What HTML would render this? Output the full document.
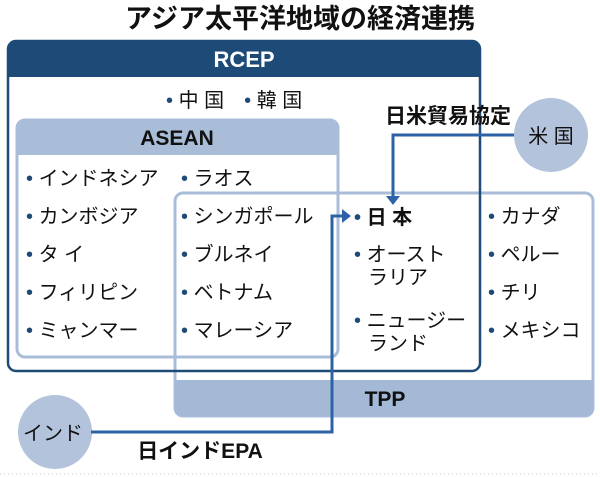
<!DOCTYPE html>
<html><head><meta charset="utf-8"><style>
html,body{margin:0;padding:0;background:#fff;}
svg{display:block;font-family:"Liberation Sans","Noto Sans CJK JP",sans-serif;}
</style></head><body>
<svg width="600" height="477" viewBox="0 0 600 477" xmlns="http://www.w3.org/2000/svg">
<text x="300" y="28" text-anchor="middle" font-size="27" font-weight="bold" fill="#111">アジア太平洋地域の経済連携</text>
<!-- TPP -->
<rect x="175" y="193" width="418" height="223" rx="8" fill="#fff" stroke="#a9bdd8" stroke-width="3"/>
<path d="M175 380 H593 V408 a8 8 0 0 1 -8 8 H183 a8 8 0 0 1 -8 -8 Z" fill="#a3b9d6"/>
<text x="385" y="406" text-anchor="middle" font-size="21" font-weight="bold" fill="#111">TPP</text>
<!-- RCEP -->
<rect x="8" y="41" width="472" height="330" rx="8" fill="none" stroke="#1d4a77" stroke-width="2.5"/>
<path d="M8 49 a8 8 0 0 1 8 -8 H472 a8 8 0 0 1 8 8 V77 H8 Z" fill="#1d4a77"/>
<text x="244" y="67" text-anchor="middle" font-size="22" font-weight="bold" fill="#fff">RCEP</text>
<g font-size="20" fill="#111">
<text x="166" y="107"><tspan fill="#1d4a77">• </tspan>中 国　<tspan fill="#1d4a77">• </tspan>韓 国</text>
</g>
<!-- ASEAN -->
<rect x="17" y="120" width="321" height="237" rx="8" fill="none" stroke="#a9bdd8" stroke-width="3"/>
<path d="M17 128 a8 8 0 0 1 8 -8 H330 a8 8 0 0 1 8 8 V155 H17 Z" fill="#a9bdd8"/>
<text x="177" y="145" text-anchor="middle" font-size="21" font-weight="bold" fill="#111">ASEAN</text>
<g font-size="20" fill="#111">
<text x="26" y="185"><tspan fill="#1d4a77">• </tspan>インドネシア</text>
<text x="26" y="223"><tspan fill="#1d4a77">• </tspan>カンボジア</text>
<text x="26" y="261"><tspan fill="#1d4a77">• </tspan>タ イ</text>
<text x="26" y="299"><tspan fill="#1d4a77">• </tspan>フィリピン</text>
<text x="26" y="337"><tspan fill="#1d4a77">• </tspan>ミャンマー</text>
<text x="181" y="185"><tspan fill="#1d4a77">• </tspan>ラオス</text>
<text x="181" y="223"><tspan fill="#1d4a77">• </tspan>シンガポール</text>
<text x="181" y="261"><tspan fill="#1d4a77">• </tspan>ブルネイ</text>
<text x="181" y="299"><tspan fill="#1d4a77">• </tspan>ベトナム</text>
<text x="181" y="337"><tspan fill="#1d4a77">• </tspan>マレーシア</text>
<text x="354" y="224" font-weight="bold"><tspan fill="#1d4a77">• </tspan>日 本</text>
<text x="354" y="261"><tspan fill="#1d4a77">• </tspan>オースト</text>
<text x="368" y="284">ラリア</text>
<text x="354" y="327"><tspan fill="#1d4a77">• </tspan>ニュージー</text>
<text x="368" y="350">ランド</text>
<text x="488" y="223"><tspan fill="#1d4a77">• </tspan>カナダ</text>
<text x="488" y="261"><tspan fill="#1d4a77">• </tspan>ペルー</text>
<text x="488" y="299"><tspan fill="#1d4a77">• </tspan>チリ</text>
<text x="488" y="337"><tspan fill="#1d4a77">• </tspan>メキシコ</text>
</g>
<!-- USA -->
<circle cx="551" cy="135" r="37" fill="#b3c3dc"/>
<text x="551" y="143" text-anchor="middle" font-size="20" fill="#111">米 国</text>
<text x="448" y="123" text-anchor="middle" font-size="21" font-weight="bold" fill="#111">日米貿易協定</text>
<path d="M514 135 H393 V197" fill="none" stroke="#2e62a6" stroke-width="3"/>
<path d="M386 196 L400 196 L393 205 Z" fill="#2e62a6"/>
<!-- India -->
<circle cx="55" cy="432" r="37" fill="#b3c3dc"/>
<text x="53" y="440" text-anchor="middle" font-size="20" fill="#111">インド</text>
<path d="M91 432 H332 V216 H343" fill="none" stroke="#2e62a6" stroke-width="3"/>
<path d="M342 209 L351 216 L342 223 Z" fill="#2e62a6"/>
<text x="200" y="458" text-anchor="middle" font-size="21" font-weight="bold" fill="#111">日インドEPA</text>
<line x1="0" y1="474" x2="600" y2="474" stroke="#ccc" stroke-width="1" stroke-dasharray="1 3"/>
</svg>
</body></html>
